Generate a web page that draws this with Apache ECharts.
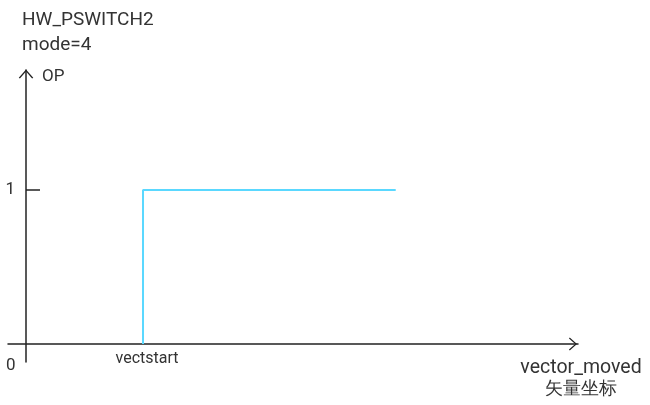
<!DOCTYPE html>
<html><head><meta charset="utf-8">
<script src="https://cdn.jsdelivr.net/npm/echarts@6/dist/echarts.min.js"></script>
<style>html,body{margin:0;padding:0;background:#fff}#c{width:650px;height:405px}</style>
</head><body><div id="c"></div>
<script>
const titleLines = ['HW_PSWITCH2', 'mode=4'];
const yName = 'OP';
const xNameLines = ['vector_moved', '矢量坐标'];
const xTickValues = [1];
const xTickLabels = ['vectstart'];
const yTickValues = [1];
const yTickLabels = ['1'];
const originLabel = '0';
const opX = [1, 1, 3.16];
const opY = [0, 1, 1];

const chevron = 'path://M50,0 L100,56 L92,62 L50,14 L8,62 L0,56 Z';
const chart = echarts.init(document.getElementById('c'), null, {renderer: 'canvas'});
chart.setOption({
  animation: false,
  backgroundColor: '#fff',
  title: {
    text: titleLines.join('\n'), left: 17, top: 3,
    textStyle: {fontFamily: 'Roboto', fontSize: 19, fontWeight: 'normal', color: '#333', lineHeight: 25}
  },
  grid: {left: 8, right: 72, top: 70, bottom: 43, containLabel: false, outerBoundsMode: 'none'},
  xAxis: {
    type: 'value', min: -0.154, max: 4.718,
    axisLine: {onZero: true, lineStyle: {color: '#222', width: 1.5}, symbol: ['none', chevron], symbolSize: [13, 12], symbolOffset: [0, -5]},
    axisTick: {show: false},
    splitLine: {show: false},
    axisLabel: {customValues: xTickValues, formatter: v => xTickLabels[xTickValues.indexOf(v)], color: '#333', fontFamily: 'Roboto', fontSize: 16, margin: -11, padding: [0, 0, 0, 8]},
    name: '{a|' + xNameLines[0] + '}\n{b|' + xNameLines[1] + '}', nameLocation: 'end', nameGap: 3,
    nameTextStyle: {fontFamily: 'Roboto', color: '#333', align: 'center', verticalAlign: 'top', padding: [13, 0, 0, 0],
      rich: {a: {fontSize: 19.5, lineHeight: 22, fontFamily: 'Roboto', color: '#333'}, b: {fontSize: 18, lineHeight: 22, color: '#333'}}}
  },
  yAxis: {
    type: 'value', min: -0.117, max: 1.779,
    axisLine: {onZero: true, lineStyle: {color: '#222', width: 1.5}, symbol: ['none', chevron], symbolSize: [16, 9], symbolOffset: [0, -4]},
    axisTick: {show: true, inside: true, length: 14, customValues: yTickValues, lineStyle: {color: '#222', width: 1.5}},
    splitLine: {show: false},
    axisLabel: {customValues: yTickValues, formatter: v => yTickLabels[yTickValues.indexOf(v)], color: '#333', fontFamily: 'Roboto', fontSize: 17, margin: -7},
    name: yName, nameLocation: 'end', nameGap: -7,
    nameTextStyle: {fontFamily: 'Roboto', fontSize: 17, color: '#333', align: 'left', verticalAlign: 'middle', padding: [0, 0, 0, 16]}
  },
  graphic: [{
    type: 'text', left: 6, top: 357,
    style: {text: originLabel, fontFamily: 'Roboto', fontSize: 17, fill: '#333'}
  }],
  series: [{
    type: 'line', data: opX.map((x, i) => [x, opY[i]]),
    symbol: 'none', lineStyle: {color: '#5ad8ff', width: 2}
  }]
});
</script></body></html>
